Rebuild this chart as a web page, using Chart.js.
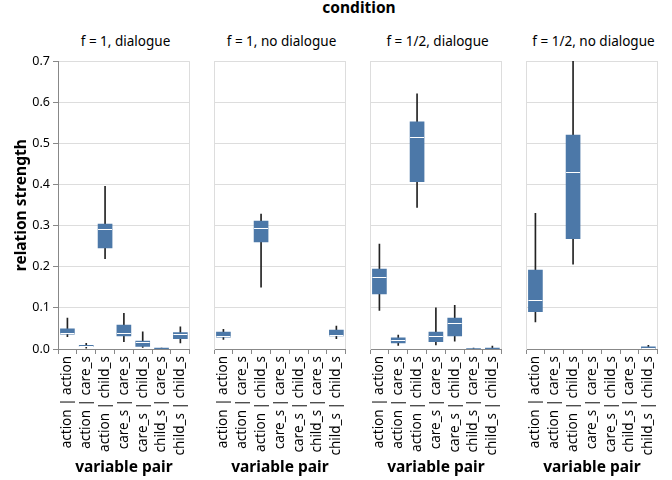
<!DOCTYPE html>
<html>
<head>
<meta charset="utf-8">
<script src="https://cdn.jsdelivr.net/npm/chart.js@4.4.1/dist/chart.umd.min.js"></script>
<style>
  body { margin: 0; background: #fff; font-family: "Noto Sans", sans-serif; }
  #wrap { position: relative; width: 672px; height: 480px; overflow: hidden; }
  canvas { position: absolute; top: 51px; }
  .header { position: absolute; top: 32px; width: 135px; text-align: center; font-size: 13.5px; color: #000; }
  #facetTitle { position: absolute; top: -4px; left: 58px; width: 602px; text-align: center; font-size: 15.5px; font-weight: bold; }
</style>
</head>
<body>
<div id="wrap">
  <div id="facetTitle">condition</div>
</div>
<script>
// ========================================
// DATA
// ========================================
const pairs = [
  "action | action", "action | care_s", "action | child_s",
  "care_s | care_s", "care_s | child_s", "child_s | care_s", "child_s | child_s",
];
const conditions = ["f = 1, dialogue", "f = 1, no dialogue", "f = 1/2, dialogue", "f = 1/2, no dialogue"];
const yTicks = [0, 0.1, 0.2, 0.3, 0.4, 0.5, 0.6, 0.7];

// one [min, q1, median, q3, max] per pair
const f1Dialogue = [
  [0.030, 0.036, 0.039, 0.049, 0.075],
  [0.002, 0.006, 0.007, 0.009, 0.014],
  [0.220, 0.246, 0.291, 0.304, 0.396],
  [0.018, 0.032, 0.038, 0.058, 0.087],
  [0.004, 0.006, 0.016, 0.019, 0.042],
  [0.000, 0.001, 0.001, 0.002, 0.002],
  [0.015, 0.025, 0.036, 0.040, 0.054],
];
const f1NoDialogue = [
  [0.023, 0.029, 0.032, 0.041, 0.048],
  [0, 0, 0, 0, 0],
  [0.150, 0.260, 0.293, 0.311, 0.328],
  [0, 0, 0, 0, 0],
  [0, 0, 0, 0, 0],
  [0, 0, 0, 0, 0],
  [0.025, 0.032, 0.034, 0.046, 0.056],
];
const fHalfDialogue = [
  [0.094, 0.134, 0.174, 0.194, 0.255],
  [0.009, 0.015, 0.021, 0.027, 0.034],
  [0.344, 0.407, 0.515, 0.552, 0.620],
  [0.010, 0.018, 0.032, 0.041, 0.100],
  [0.019, 0.032, 0.064, 0.075, 0.106],
  [0.000, 0.000, 0.001, 0.001, 0.002],
  [0.000, 0.001, 0.001, 0.002, 0.007],
];
const fHalfNoDialogue = [
  [0.066, 0.091, 0.119, 0.192, 0.330],
  [0, 0, 0, 0, 0],
  [0.206, 0.268, 0.430, 0.520, 0.700],
  [0, 0, 0, 0, 0],
  [0, 0, 0, 0, 0],
  [0, 0, 0, 0, 0],
  [0.000, 0.001, 0.003, 0.005, 0.009],
];
const panelStats = [f1Dialogue, f1NoDialogue, fHalfDialogue, fHalfNoDialogue];

// ========================================
// LAYOUT
// ========================================
const panelLeft = [58, 214, 370, 526];
const panelWidth = 135;
const yAxisWidth = 58;
const padRight = 6;
const canvasHeight = 429;
const plotTop = 10;
const plotHeight = 288;

const BOX = "#4c78a8";
const WHISKER = "#222222";
const GRID = "#dddddd";
const AXIS = "#888888";
const FONT = "'Noto Sans', sans-serif";

// white median tick across each box (skipped for empty pairs)
const medianPlugin = {
  id: "medianTicks",
  afterDatasetsDraw(chart, args, opts) {
    const { ctx, chartArea, scales: { x, y } } = chart;
    ctx.save();
    ctx.beginPath();
    ctx.rect(chartArea.left, chartArea.top, chartArea.right - chartArea.left, chartArea.bottom - chartArea.top);
    ctx.clip();
    ctx.strokeStyle = "#fff";
    ctx.lineWidth = 1;
    opts.stats.forEach((s, i) => {
      if (s[4] === 0) return;
      const cx = x.getPixelForValue(i);
      const cy = Math.round(y.getPixelForValue(s[2])) + 0.5;
      ctx.beginPath();
      ctx.moveTo(cx - 7, cy);
      ctx.lineTo(cx + 7, cy);
      ctx.stroke();
    });
    ctx.restore();
  },
};

// light frame on the right edge of each view
const framePlugin = {
  id: "viewFrame",
  beforeDatasetsDraw(chart) {
    const { ctx, chartArea } = chart;
    const rx = Math.round(chartArea.right) - 0.5;
    ctx.save();
    ctx.strokeStyle = GRID;
    ctx.lineWidth = 1;
    ctx.beginPath();
    ctx.moveTo(rx, chartArea.top);
    ctx.lineTo(rx, chartArea.bottom);
    ctx.stroke();
    ctx.restore();
  },
};

const wrap = document.getElementById("wrap");

panelStats.forEach((stats, p) => {
  const first = p === 0;
  const leftSpace = first ? yAxisWidth : 0;
  // pairs with no data get no marks
  const shown = stats.map((s) => s[4] > 0);

  const header = document.createElement("div");
  header.className = "header";
  header.style.left = panelLeft[p] + "px";
  header.textContent = conditions[p];
  wrap.appendChild(header);

  const canvas = document.createElement("canvas");
  canvas.width = leftSpace + panelWidth + padRight;
  canvas.height = canvasHeight;
  canvas.style.left = (panelLeft[p] - leftSpace) + "px";
  wrap.appendChild(canvas);

  new Chart(canvas, {
    type: "bar",
    data: {
      labels: pairs,
      datasets: [
        {
          label: "box",
          data: stats.map((s) => [s[1], s[3]]),
          backgroundColor: shown.map((v) => (v ? BOX : "rgba(0,0,0,0)")),
          barThickness: 14,
          grouped: false,
          order: 0,
        },
        {
          label: "whisker",
          data: stats.map((s) => [s[0], s[4]]),
          backgroundColor: shown.map((v) => (v ? WHISKER : "rgba(0,0,0,0)")),
          barThickness: 1,
          grouped: false,
          order: 1,
        },
      ],
    },
    options: {
      responsive: false,
      animation: false,
      events: [],
      layout: { padding: { top: plotTop, bottom: 0, left: 0, right: padRight } },
      plugins: {
        legend: { display: false },
        tooltip: { enabled: false },
        medianTicks: { stats: stats },
      },
      scales: {
        x: {
          type: "category",
          offset: true,
          grid: { drawOnChartArea: false, drawTicks: true, tickLength: 5, tickColor: AXIS },
          border: { display: true, color: AXIS },
          ticks: {
            autoSkip: false,
            minRotation: 90,
            maxRotation: 90,
            padding: 2,
            color: "#000",
            font: { family: FONT, size: 13.5 },
          },
          title: {
            display: true,
            text: "variable pair",
            color: "#000",
            font: { family: FONT, size: 15.5, weight: "bold" },
            padding: { top: 0, bottom: 3 },
          },
          afterFit: (s) => { s.height = canvasHeight - plotTop - plotHeight; },
        },
        y: {
          min: 0,
          max: 0.7,
          afterBuildTicks: (s) => { s.ticks = yTicks.map((v) => ({ value: v })); },
          grid: {
            color: GRID,
            drawTicks: first,
            tickLength: 5,
            tickColor: AXIS,
          },
          border: { display: true, color: first ? AXIS : GRID },
          ticks: {
            display: first,
            padding: 3,
            color: "#000",
            font: { family: FONT, size: 12.5 },
            callback: (v) => Number(v).toFixed(1),
          },
          title: {
            display: first,
            text: "relation strength",
            color: "#000",
            font: { family: FONT, size: 15.5, weight: "bold" },
            padding: { top: 12, bottom: 0 },
          },
          afterFit: (s) => { s.width = leftSpace; },
        },
      },
    },
    plugins: [framePlugin, medianPlugin],
  });
});
</script>
</body>
</html>
